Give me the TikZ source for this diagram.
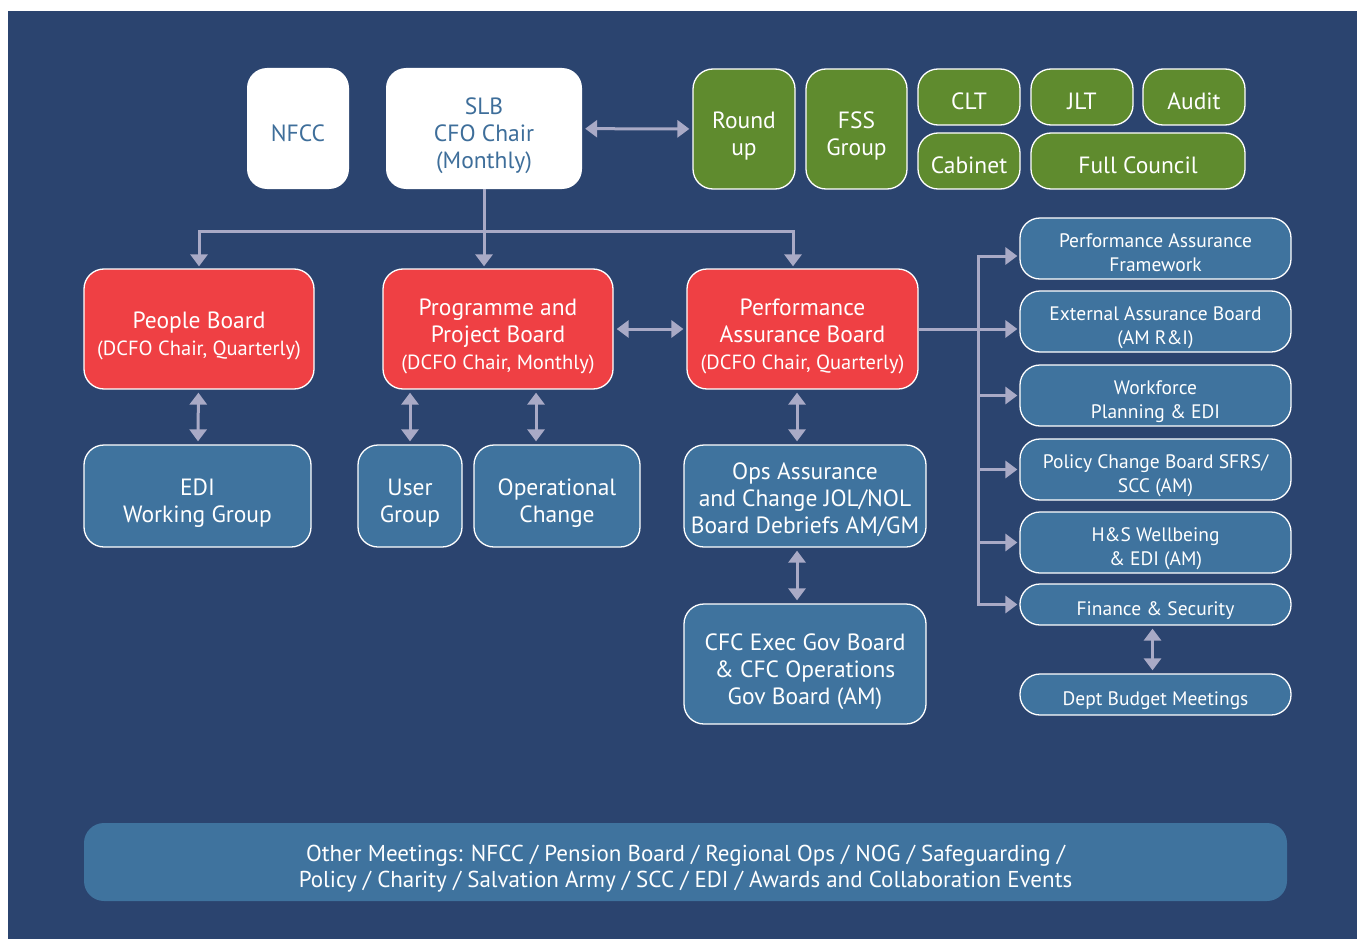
\documentclass[tikz,border=0pt]{standalone}
\usepackage{fontspec}
\setmainfont{PT Sans}
\usetikzlibrary{arrows.meta, positioning}

\definecolor{bgblue}{HTML}{2B446F}
\definecolor{boxblue}{HTML}{3F739E}
\definecolor{boxred}{HTML}{EF4044}
\definecolor{boxgreen}{HTML}{5F8B2E}
\definecolor{arrgrey}{HTML}{A9AAC6}
\definecolor{txtblue}{HTML}{3E6E9A}

\newcommand{\bigtxt}{\fontsize{23.5}{27}\selectfont}
\newcommand{\subtxt}{\fontsize{20.5}{27}\selectfont}
\newcommand{\sidetxt}{\fontsize{19.5}{24}\selectfont}
\newcommand{\bartxt}{\fontsize{23}{26}\selectfont}
% text block, set a little below the middle of its box
\newcommand{\boxtext}[2][8pt]{\raisebox{-#1}[\height][\depth]{\begin{tabular}{@{}c@{}}#2\end{tabular}}}

\begin{document}
\begin{tikzpicture}[x=1pt, y=-1pt,
    box/.style={rounded corners=20pt, inner sep=0pt, font=\bigtxt},
    wbox/.style={box, fill=white, text=txtblue},
    gbox/.style={box, fill=boxgreen, draw=white, line width=1.3pt, text=white},
    rbox/.style={box, fill=boxred, draw=white, line width=1.3pt, text=white},
    bbox/.style={box, fill=boxblue, draw=white, line width=1.3pt, text=white},
    sbox/.style={bbox, minimum width=271pt, minimum height=61pt, font=\sidetxt},
    pbox/.style={sbox, minimum height=41pt, rounded corners=20pt},
    line/.style={draw=arrgrey, line width=3pt},
    arr/.style={line, -{Triangle[width=17pt,length=12pt]}, shorten >=2pt},
    darr/.style={line, {Triangle[width=17pt,length=12pt]}-{Triangle[width=17pt,length=12pt]}, shorten >=3pt, shorten <=3pt}]
    \useasboundingbox (0,0) rectangle (1357,939);
    \fill[bgblue] (8,11) rectangle (1357,939);

    % top row
    \node (nfcc) [wbox, minimum width=102pt, minimum height=121pt] at (298,128.5) {\boxtext{NFCC}};
    \node (slb) [wbox, minimum width=196pt, minimum height=121pt] at (484,128.5) {\boxtext{SLB\\CFO Chair\\(Monthly)}};
    \node (round) [gbox, minimum width=102pt, minimum height=120pt] at (744,129) {\boxtext{Round\\up}};
    \node (fss) [gbox, minimum width=101pt, minimum height=120pt] at (856.5,129) {\boxtext{FSS\\Group}};
    \node (clt) [gbox, minimum width=102pt, minimum height=56pt] at (969,97) {\boxtext[7pt]{CLT}};
    \node (jlt) [gbox, minimum width=102pt, minimum height=56pt] at (1082,97) {\boxtext[7pt]{JLT}};
    \node (audit) [gbox, minimum width=102pt, minimum height=56pt] at (1194,97) {\boxtext[7pt]{Audit}};
    \node (cabinet) [gbox, minimum width=102pt, minimum height=56pt] at (969,161) {\boxtext[7pt]{Cabinet}};
    \node (council) [gbox, minimum width=214pt, minimum height=56pt] at (1138,161) {\boxtext[7pt]{Full Council}};

    % boards
    \node (people) [rbox, minimum width=230pt, minimum height=120pt] at (199,329) {\boxtext{People Board\\{\subtxt(DCFO Chair, Quarterly)}}};
    \node (prog) [rbox, minimum width=230pt, minimum height=120pt] at (498,329) {\boxtext{Programme and\\Project Board\\{\subtxt(DCFO Chair, Monthly)}}};
    \node (perf) [rbox, minimum width=231pt, minimum height=120pt] at (802.5,329) {\boxtext{Performance\\Assurance Board\\{\subtxt(DCFO Chair, Quarterly)}}};

    % groups
    \node (edi) [bbox, minimum width=227pt, minimum height=102pt] at (197.5,496) {\boxtext{EDI\\Working Group}};
    \node (user) [bbox, minimum width=104pt, minimum height=102pt] at (410,496) {\boxtext{User\\Group}};
    \node (opchange) [bbox, minimum width=166pt, minimum height=102pt] at (557,496) {\boxtext{Operational\\Change}};
    \node (ops) [bbox, minimum width=242pt, minimum height=102pt] at (805,496) {\boxtext[5pt]{Ops Assurance\\and Change JOL/NOL\\Board Debriefs AM/GM}};
    \node (cfc) [bbox, minimum width=242pt, minimum height=120pt] at (805,664) {\boxtext{CFC Exec Gov Board\\\& CFC Operations\\Gov Board (AM)}};

    % right column
    \node (paf) [sbox] at (1155.5,248.5) {\boxtext[6pt]{Performance Assurance\\Framework}};
    \node (eab) [sbox] at (1155.5,321.5) {\boxtext[6pt]{External Assurance Board\\(AM R\&I)}};
    \node (wpe) [sbox] at (1155.5,395.5) {\boxtext[6pt]{Workforce\\Planning \& EDI}};
    \node (pcb) [sbox] at (1155.5,469.5) {\boxtext[6pt]{Policy Change Board SFRS/\\SCC (AM)}};
    \node (hsw) [sbox] at (1155.5,542.5) {\boxtext[6pt]{H\&S Wellbeing\\\& EDI (AM)}};
    \node (fs) [pbox] at (1155.5,604.5) {\boxtext[6pt]{Finance \& Security}};
    \node (dbm) [pbox] at (1155.5,694.5) {\boxtext[6pt]{Dept Budget Meetings}};

    % other meetings
    \node (other) [box, fill=boxblue, text=white, font=\bartxt, minimum width=1203pt, minimum height=78pt] at (685.5,862)
        {\boxtext[7pt]{Other Meetings: NFCC / Pension Board / Regional Ops / NOG / Safeguarding /\\Policy / Charity / Salvation Army / SCC / EDI / Awards and Collaboration Events}};

    \coordinate (split) at (484,231);
    \coordinate (bus) at (978,329);

    \draw[darr] (slb) -- (round);
    \draw[line] (slb) -- (split);
    \draw[arr] (split) -| (people);
    \draw[arr] (split) -- (split |- prog.north);
    \draw[arr] (split) -| ([xshift=-9.5pt]perf.north);
    \draw[darr] (prog) -- (perf);
    \draw[darr] (people) -- (edi);
    \draw[darr] (prog.south -| user) -- (user);
    \draw[darr] ([xshift=-21pt]prog.south -| opchange) -- ([xshift=-21pt]opchange.north);
    \draw[darr] ([xshift=-8pt]perf.south -| ops) -- ([xshift=-8pt]ops.north);
    \draw[darr] ([xshift=-8pt]ops.south) -- ([xshift=-8pt]cfc.north);
    \draw[darr] ([xshift=-3pt]fs.south) -- ([xshift=-3pt]dbm.north);

    \draw[line] (perf) -- (bus);
    \draw[line, line cap=rect] ([yshift=-7.5pt]bus |- paf.west) -- (bus |- fs.west);
    \draw[arr] ([yshift=-7.5pt]bus |- paf.west) -- ([yshift=-7.5pt]paf.west);
    \draw[arr] (bus) -- ([yshift=-7.5pt]eab.west);
    \foreach \b in {wpe, pcb, hsw, fs}
        \draw[arr] (bus |- \b.west) -- (\b.west);
\end{tikzpicture}
\end{document}
